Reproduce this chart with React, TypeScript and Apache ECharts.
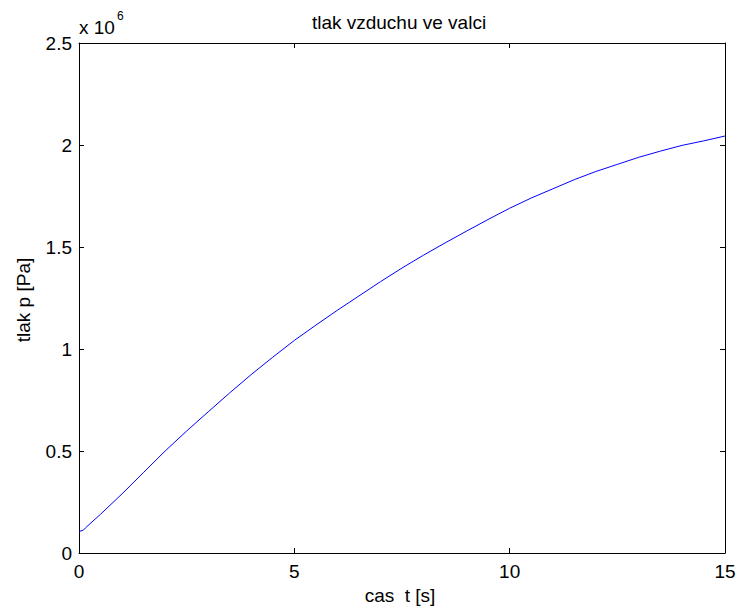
import React, { useEffect, useRef } from "react";
import * as echarts from "echarts";

const timeS = [0, 0.1, 0.15, 0.5, 1, 1.5, 2, 2.5, 3, 3.5, 4, 4.5, 5, 5.5, 6, 6.5, 7, 7.5, 8, 8.5, 9, 9.5, 10, 10.5, 11, 11.5, 12, 12.5, 13, 13.5, 14, 14.5, 15];
const pressureMPa = [0.105, 0.112, 0.123, 0.19, 0.29, 0.395, 0.5, 0.598, 0.692, 0.785, 0.875, 0.96, 1.042, 1.117, 1.19, 1.26, 1.33, 1.397, 1.46, 1.52, 1.578, 1.635, 1.69, 1.74, 1.785, 1.83, 1.87, 1.905, 1.94, 1.97, 1.998, 2.02, 2.044];
const xTicks = [0, 5, 10, 15];
const yTicksMPa = [0, 0.5, 1, 1.5, 2, 2.5];

const FONT = "'Liberation Sans', Arial, sans-serif";

export default function App() {
  const ref = useRef<HTMLDivElement>(null);
  useEffect(() => {
    if (!ref.current) return;
    const chart = echarts.init(ref.current, null, { renderer: "svg" });
    const data = timeS.map((t, i) => [t, pressureMPa[i] * 1e6]);
    const tickStyle = { show: true, inside: true, length: 5, lineStyle: { color: "#000", width: 1 } };
    const lineStyle = { show: true, onZero: false, lineStyle: { color: "#000", width: 1 } };
    const labelStyle = { color: "#000", fontSize: 19, fontFamily: FONT };
    chart.setOption({
      animation: false,
      backgroundColor: "#fff",
      grid: { left: 79, right: 14, top: 43, bottom: 58, containLabel: false },
      xAxis: [
        {
          type: "value", min: xTicks[0], max: xTicks[xTicks.length - 1], interval: 5,
          position: "bottom", axisLine: lineStyle, axisTick: tickStyle,
          axisLabel: { ...labelStyle, margin: 9 }, splitLine: { show: false },
        },
        {
          type: "value", min: xTicks[0], max: xTicks[xTicks.length - 1], interval: 5,
          position: "top", axisLine: lineStyle, axisTick: tickStyle,
          axisLabel: { show: false }, splitLine: { show: false },
        },
      ],
      yAxis: [
        {
          type: "value", min: 0, max: yTicksMPa[yTicksMPa.length - 1] * 1e6, interval: 500000,
          position: "left", axisLine: lineStyle, axisTick: tickStyle,
          axisLabel: { ...labelStyle, margin: 7, formatter: (v: number) => String(v / 1e6) },
          splitLine: { show: false },
        },
        {
          type: "value", min: 0, max: yTicksMPa[yTicksMPa.length - 1] * 1e6, interval: 500000,
          position: "right", axisLine: lineStyle, axisTick: tickStyle,
          axisLabel: { show: false }, splitLine: { show: false },
        },
      ],
      series: [
        {
          type: "line", data, showSymbol: false, smooth: false,
          lineStyle: { color: "#0000ff", width: 1 }, xAxisIndex: 0, yAxisIndex: 0,
        },
      ],
      graphic: [
        { type: "text", x: 399, y: 22, style: { text: "tlak vzduchu ve valci", fill: "#000", font: `19px ${FONT}`, align: "center", verticalAlign: "middle" } },
        { type: "text", x: 400, y: 595, style: { text: "cas  t [s]", fill: "#000", font: `19px ${FONT}`, align: "center", verticalAlign: "middle" } },
        { type: "text", x: 23, y: 300, rotation: Math.PI / 2, style: { text: "tlak p [Pa]", fill: "#000", font: `19px ${FONT}`, align: "center", verticalAlign: "middle" } },
        { type: "text", x: 79, y: 27, style: { text: "x 10", fill: "#000", font: `19px ${FONT}`, align: "left", verticalAlign: "middle" } },
        { type: "text", x: 117, y: 16, style: { text: "6", fill: "#000", font: `12px ${FONT}`, align: "left", verticalAlign: "middle" } },
      ],
    });
    return () => chart.dispose();
  }, []);
  return <div ref={ref} style={{ position: "absolute", left: 0, top: 0, width: 739, height: 611 }} />;
}
